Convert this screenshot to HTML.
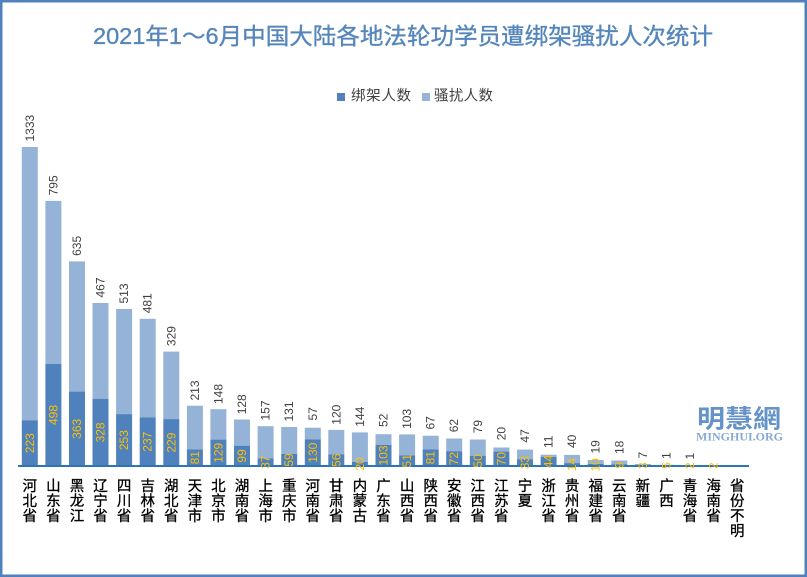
<!DOCTYPE html>
<html><head><meta charset="utf-8"><style>
html,body{margin:0;padding:0;background:#fff;}
svg{display:block;}
.t{font-family:"Liberation Sans","Noto Sans CJK SC",sans-serif;}
.v{font-family:"Liberation Sans",sans-serif;font-size:12px;fill:#404040;}
.y{font-family:"Liberation Sans",sans-serif;font-size:12px;fill:#FFC000;}
.c{font-family:"Liberation Sans","Noto Sans CJK SC",sans-serif;font-size:14.5px;fill:#000;stroke:#000;stroke-width:0.3;}
</style></head><body>
<svg width="807" height="577" viewBox="0 0 807 577" xmlns="http://www.w3.org/2000/svg">
<rect x="0" y="0" width="807" height="577" fill="#fff"/>
<rect x="1.25" y="1.25" width="804.5" height="574.5" fill="none" stroke="#4F81BD" stroke-width="2.5"/>
<text class="t" x="93" y="44" font-size="23" fill="#5586BB" stroke="#5586BB" stroke-width="0.35" textLength="620" lengthAdjust="spacingAndGlyphs">2021年1～6月中国大陆各地法轮功学员遭绑架骚扰人次统计</text>
<rect x="337" y="93" width="8" height="8" fill="#4F81BD"/>
<text class="t" x="351" y="100.5" font-size="14.5" fill="#404040" textLength="60">绑架人数</text>
<rect x="422" y="93" width="8" height="8" fill="#95B3D7"/>
<text class="t" x="434" y="100.5" font-size="14.5" fill="#404040" textLength="59">骚扰人数</text>

<text x="697" y="427.5" font-family="'Noto Sans CJK TC','Noto Sans CJK SC',sans-serif" font-size="25" font-weight="bold" fill="#6593C9" textLength="84" lengthAdjust="spacingAndGlyphs">明慧網</text>
<text x="696" y="440.7" font-family="'Liberation Serif',serif" font-size="11.5" font-weight="bold" fill="#86AAD6" textLength="87" lengthAdjust="spacingAndGlyphs">MINGHUI.ORG</text>

<g>
<rect x="21.8" y="147.0" width="16" height="273.3" fill="#95B3D7"/>
<rect x="45.4" y="200.9" width="16" height="163.0" fill="#95B3D7"/>
<rect x="69" y="261.4" width="16" height="130.2" fill="#95B3D7"/>
<rect x="92.5" y="303.0" width="16" height="95.8" fill="#95B3D7"/>
<rect x="116.1" y="309.0" width="16" height="105.1" fill="#95B3D7"/>
<rect x="139.7" y="318.8" width="16" height="98.6" fill="#95B3D7"/>
<rect x="163.3" y="351.6" width="16" height="67.5" fill="#95B3D7"/>
<rect x="186.9" y="405.7" width="16" height="43.7" fill="#95B3D7"/>
<rect x="210.4" y="409.2" width="16" height="30.4" fill="#95B3D7"/>
<rect x="234" y="419.5" width="16" height="26.2" fill="#95B3D7"/>
<rect x="257.6" y="426.2" width="16" height="32.2" fill="#95B3D7"/>
<rect x="281.2" y="427.0" width="16" height="26.9" fill="#95B3D7"/>
<rect x="304.8" y="427.7" width="16" height="11.6" fill="#95B3D7"/>
<rect x="328.3" y="429.9" width="16" height="24.6" fill="#95B3D7"/>
<rect x="351.9" y="432.4" width="16" height="29.5" fill="#95B3D7"/>
<rect x="375.5" y="434.2" width="16" height="10.7" fill="#95B3D7"/>
<rect x="399.1" y="434.4" width="16" height="21.1" fill="#95B3D7"/>
<rect x="422.7" y="435.7" width="16" height="13.7" fill="#95B3D7"/>
<rect x="446.2" y="438.5" width="16" height="12.7" fill="#95B3D7"/>
<rect x="469.8" y="439.5" width="16" height="16.2" fill="#95B3D7"/>
<rect x="493.4" y="447.5" width="16" height="4.1" fill="#95B3D7"/>
<rect x="517" y="449.6" width="16" height="9.6" fill="#95B3D7"/>
<rect x="540.6" y="454.7" width="16" height="2.3" fill="#95B3D7"/>
<rect x="564.1" y="454.9" width="16" height="8.2" fill="#95B3D7"/>
<rect x="587.7" y="460.0" width="16" height="3.9" fill="#95B3D7"/>
<rect x="611.3" y="460.5" width="16" height="3.7" fill="#95B3D7"/>
<rect x="634.9" y="464.0" width="16" height="1.4" fill="#95B3D7"/>
<rect x="658.5" y="464.8" width="16" height="0.4" fill="#95B3D7"/>
<rect x="682" y="465.4" width="16" height="0.3" fill="#95B3D7"/>
<rect x="21.8" y="420.3" width="16" height="45.7" fill="#4F81BD"/>
<rect x="45.4" y="363.9" width="16" height="102.1" fill="#4F81BD"/>
<rect x="69" y="391.6" width="16" height="74.4" fill="#4F81BD"/>
<rect x="92.5" y="398.8" width="16" height="67.2" fill="#4F81BD"/>
<rect x="116.1" y="414.1" width="16" height="51.9" fill="#4F81BD"/>
<rect x="139.7" y="417.4" width="16" height="48.6" fill="#4F81BD"/>
<rect x="163.3" y="419.1" width="16" height="46.9" fill="#4F81BD"/>
<rect x="186.9" y="449.4" width="16" height="16.6" fill="#4F81BD"/>
<rect x="210.4" y="439.6" width="16" height="26.4" fill="#4F81BD"/>
<rect x="234" y="445.7" width="16" height="20.3" fill="#4F81BD"/>
<rect x="257.6" y="458.4" width="16" height="7.6" fill="#4F81BD"/>
<rect x="281.2" y="453.9" width="16" height="12.1" fill="#4F81BD"/>
<rect x="304.8" y="439.3" width="16" height="26.7" fill="#4F81BD"/>
<rect x="328.3" y="454.5" width="16" height="11.5" fill="#4F81BD"/>
<rect x="351.9" y="461.9" width="16" height="4.1" fill="#4F81BD"/>
<rect x="375.5" y="444.9" width="16" height="21.1" fill="#4F81BD"/>
<rect x="399.1" y="455.5" width="16" height="10.5" fill="#4F81BD"/>
<rect x="422.7" y="449.4" width="16" height="16.6" fill="#4F81BD"/>
<rect x="446.2" y="451.2" width="16" height="14.8" fill="#4F81BD"/>
<rect x="469.8" y="455.7" width="16" height="10.3" fill="#4F81BD"/>
<rect x="493.4" y="451.6" width="16" height="14.4" fill="#4F81BD"/>
<rect x="517" y="459.2" width="16" height="6.8" fill="#4F81BD"/>
<rect x="540.6" y="457.0" width="16" height="9.0" fill="#4F81BD"/>
<rect x="564.1" y="463.1" width="16" height="2.9" fill="#4F81BD"/>
<rect x="587.7" y="463.9" width="16" height="2.1" fill="#4F81BD"/>
<rect x="611.3" y="464.2" width="16" height="1.8" fill="#4F81BD"/>
<rect x="634.9" y="465.4" width="16" height="0.6" fill="#4F81BD"/>
<rect x="658.5" y="465.0" width="16" height="1.0" fill="#4F81BD"/>
<rect x="682" y="465.6" width="16" height="0.4" fill="#4F81BD"/>
<rect x="705.6" y="465.6" width="16" height="0.4" fill="#4F81BD"/>
</g>

<rect x="18" y="465" width="731" height="2" fill="#2F75B5"/>

<g class="v" dominant-baseline="central" text-anchor="start">
<text transform="translate(29.8,141.5) rotate(-90)">1333</text>
<text transform="translate(53.4,195.4) rotate(-90)">795</text>
<text transform="translate(77,255.9) rotate(-90)">635</text>
<text transform="translate(100.5,297.5) rotate(-90)">467</text>
<text transform="translate(124.1,303.5) rotate(-90)">513</text>
<text transform="translate(147.7,313.3) rotate(-90)">481</text>
<text transform="translate(171.3,346.1) rotate(-90)">329</text>
<text transform="translate(194.9,400.5) rotate(-90)">213</text>
<text transform="translate(218.4,404) rotate(-90)">148</text>
<text transform="translate(242,414.3) rotate(-90)">128</text>
<text transform="translate(265.6,420.5) rotate(-90)">157</text>
<text transform="translate(289.2,421.5) rotate(-90)">131</text>
<text transform="translate(312.8,420.5) rotate(-90)">57</text>
<text transform="translate(336.3,424.7) rotate(-90)">120</text>
<text transform="translate(359.9,426.7) rotate(-90)">144</text>
<text transform="translate(383.5,427) rotate(-90)">52</text>
<text transform="translate(407.1,428.9) rotate(-90)">103</text>
<text transform="translate(430.7,429.5) rotate(-90)">67</text>
<text transform="translate(454.2,432.3) rotate(-90)">62</text>
<text transform="translate(477.8,433.3) rotate(-90)">79</text>
<text transform="translate(501.4,440.3) rotate(-90)">20</text>
<text transform="translate(525,442.6) rotate(-90)">47</text>
<text transform="translate(548.6,448) rotate(-90)">11</text>
<text transform="translate(572.1,448) rotate(-90)">40</text>
<text transform="translate(595.7,453.5) rotate(-90)">19</text>
<text transform="translate(619.3,454) rotate(-90)">18</text>
<text transform="translate(642.9,458.5) rotate(-90)">7</text>
<text transform="translate(666.5,459) rotate(-90)">1</text>
<text transform="translate(690,459.5) rotate(-90)">1</text>
</g>

<g class="y" dominant-baseline="central" text-anchor="middle">
<text transform="translate(29.8,443.2) rotate(-90)">223</text>
<text transform="translate(53.4,415.0) rotate(-90)">498</text>
<text transform="translate(77,428.8) rotate(-90)">363</text>
<text transform="translate(100.5,432.4) rotate(-90)">328</text>
<text transform="translate(124.1,440.1) rotate(-90)">253</text>
<text transform="translate(147.7,441.7) rotate(-90)">237</text>
<text transform="translate(171.3,442.6) rotate(-90)">229</text>
<text transform="translate(194.9,457.7) rotate(-90)">81</text>
<text transform="translate(218.4,452.8) rotate(-90)">129</text>
<text transform="translate(242,455.9) rotate(-90)">99</text>
<text transform="translate(265.6,462.2) rotate(-90)">37</text>
<text transform="translate(289.2,460.0) rotate(-90)">59</text>
<text transform="translate(312.8,452.7) rotate(-90)">130</text>
<text transform="translate(336.3,460.3) rotate(-90)">56</text>
<text transform="translate(359.9,464.0) rotate(-90)">20</text>
<text transform="translate(383.5,455.5) rotate(-90)">103</text>
<text transform="translate(407.1,460.8) rotate(-90)">51</text>
<text transform="translate(430.7,457.7) rotate(-90)">81</text>
<text transform="translate(454.2,458.6) rotate(-90)">72</text>
<text transform="translate(477.8,460.9) rotate(-90)">50</text>
<text transform="translate(501.4,458.8) rotate(-90)">70</text>
<text transform="translate(525,462.6) rotate(-90)">33</text>
<text transform="translate(548.6,461.5) rotate(-90)">44</text>
<text transform="translate(572.1,464.6) rotate(-90)">14</text>
<text transform="translate(595.7,465.0) rotate(-90)">10</text>
<text transform="translate(619.3,465.1) rotate(-90)">9</text>
<text transform="translate(642.9,465.7) rotate(-90)">3</text>
<text transform="translate(666.5,465.5) rotate(-90)">5</text>
<text transform="translate(690,465.8) rotate(-90)">2</text>
<text transform="translate(713.6,465.8) rotate(-90)">2</text>
</g>

<g class="c" text-anchor="middle">
<text x="29.8" y="491">河<tspan x="29.8" y="506">北</tspan><tspan x="29.8" y="521">省</tspan></text>
<text x="53.4" y="491">山<tspan x="53.4" y="506">东</tspan><tspan x="53.4" y="521">省</tspan></text>
<text x="77" y="491">黑<tspan x="77" y="506">龙</tspan><tspan x="77" y="521">江</tspan></text>
<text x="100.5" y="491">辽<tspan x="100.5" y="506">宁</tspan><tspan x="100.5" y="521">省</tspan></text>
<text x="124.1" y="491">四<tspan x="124.1" y="506">川</tspan><tspan x="124.1" y="521">省</tspan></text>
<text x="147.7" y="491">吉<tspan x="147.7" y="506">林</tspan><tspan x="147.7" y="521">省</tspan></text>
<text x="171.3" y="491">湖<tspan x="171.3" y="506">北</tspan><tspan x="171.3" y="521">省</tspan></text>
<text x="194.9" y="491">天<tspan x="194.9" y="506">津</tspan><tspan x="194.9" y="521">市</tspan></text>
<text x="218.4" y="491">北<tspan x="218.4" y="506">京</tspan><tspan x="218.4" y="521">市</tspan></text>
<text x="242" y="491">湖<tspan x="242" y="506">南</tspan><tspan x="242" y="521">省</tspan></text>
<text x="265.6" y="491">上<tspan x="265.6" y="506">海</tspan><tspan x="265.6" y="521">市</tspan></text>
<text x="289.2" y="491">重<tspan x="289.2" y="506">庆</tspan><tspan x="289.2" y="521">市</tspan></text>
<text x="312.8" y="491">河<tspan x="312.8" y="506">南</tspan><tspan x="312.8" y="521">省</tspan></text>
<text x="336.3" y="491">甘<tspan x="336.3" y="506">肃</tspan><tspan x="336.3" y="521">省</tspan></text>
<text x="359.9" y="491">内<tspan x="359.9" y="506">蒙</tspan><tspan x="359.9" y="521">古</tspan></text>
<text x="383.5" y="491">广<tspan x="383.5" y="506">东</tspan><tspan x="383.5" y="521">省</tspan></text>
<text x="407.1" y="491">山<tspan x="407.1" y="506">西</tspan><tspan x="407.1" y="521">省</tspan></text>
<text x="430.7" y="491">陕<tspan x="430.7" y="506">西</tspan><tspan x="430.7" y="521">省</tspan></text>
<text x="454.2" y="491">安<tspan x="454.2" y="506">徽</tspan><tspan x="454.2" y="521">省</tspan></text>
<text x="477.8" y="491">江<tspan x="477.8" y="506">西</tspan><tspan x="477.8" y="521">省</tspan></text>
<text x="501.4" y="491">江<tspan x="501.4" y="506">苏</tspan><tspan x="501.4" y="521">省</tspan></text>
<text x="525" y="491">宁<tspan x="525" y="506">夏</tspan></text>
<text x="548.6" y="491">浙<tspan x="548.6" y="506">江</tspan><tspan x="548.6" y="521">省</tspan></text>
<text x="572.1" y="491">贵<tspan x="572.1" y="506">州</tspan><tspan x="572.1" y="521">省</tspan></text>
<text x="595.7" y="491">福<tspan x="595.7" y="506">建</tspan><tspan x="595.7" y="521">省</tspan></text>
<text x="619.3" y="491">云<tspan x="619.3" y="506">南</tspan><tspan x="619.3" y="521">省</tspan></text>
<text x="642.9" y="491">新<tspan x="642.9" y="506">疆</tspan></text>
<text x="666.5" y="491">广<tspan x="666.5" y="506">西</tspan></text>
<text x="690" y="491">青<tspan x="690" y="506">海</tspan><tspan x="690" y="521">省</tspan></text>
<text x="713.6" y="491">海<tspan x="713.6" y="506">南</tspan><tspan x="713.6" y="521">省</tspan></text>
<text x="737.2" y="491">省<tspan x="737.2" y="506">份</tspan><tspan x="737.2" y="521">不</tspan><tspan x="737.2" y="536">明</tspan></text>
</g>
</svg>
</body></html>
